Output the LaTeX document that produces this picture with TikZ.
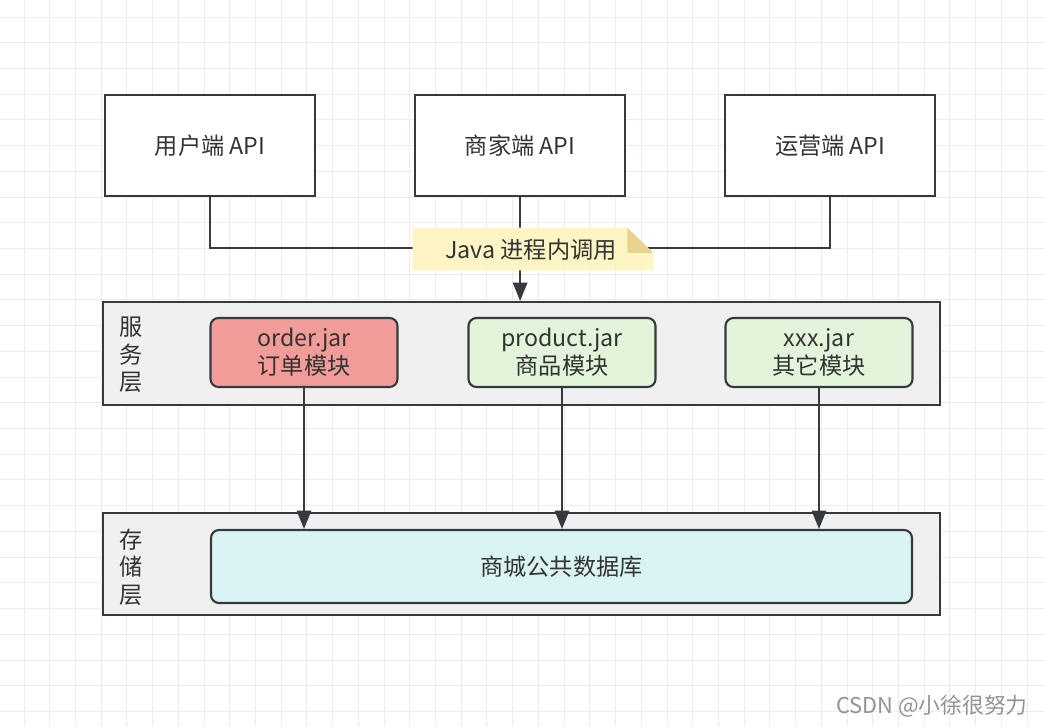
\documentclass[tikz,border=0pt]{standalone}
\usepackage{fontspec}
\newfontfamily\cjk{Noto Sans CJK SC}
\usepackage{xcolor}
\definecolor{linedark}{RGB}{54, 57, 61}
\definecolor{textdark}{RGB}{51, 51, 51}
\definecolor{layergray}{RGB}{240, 240, 240}
\definecolor{orderred}{RGB}{241, 156, 153}
\definecolor{modgreen}{RGB}{226, 245, 218}
\definecolor{dbcyan}{RGB}{218, 243, 243}
\definecolor{noteyellow}{RGB}{255, 244, 195}
\definecolor{notefold}{RGB}{232, 212, 142}
\definecolor{gridgray}{RGB}{236, 236, 238}
\usetikzlibrary{positioning, arrows.meta, calc, backgrounds}

\begin{document}
\begin{tikzpicture}[node distance=2.45cm, >={Triangle[length=0.46cm, width=0.36cm]},
    every node/.style={font=\cjk\fontsize{16.5}{20}\selectfont, text=textdark},
    apibox/.style={draw=linedark, line width=1.5pt, fill=white, minimum width=5.25cm, minimum height=2.525cm},
    layerbox/.style={draw=linedark, line width=1.5pt, fill=layergray, minimum width=20.925cm, minimum height=2.575cm},
    jarbox/.style={draw=linedark, line width=1.5pt, rounded corners=0.2cm, minimum width=4.675cm, minimum height=1.725cm, align=center, inner sep=1pt},
    layerlabel/.style={align=center, font=\cjk\fontsize{16.5}{19.5}\selectfont},
    conn/.style={draw=linedark, line width=1.5pt}]
    \useasboundingbox (0,0) rectangle (26.125,18.15);
    % background grid
    \foreach \gx in {0,...,40} {
        \draw [gridgray, line width=0.7pt] ({0.6+0.643*\gx},0) -- ({0.6+0.643*\gx},18.15);
    }
    \foreach \gy in {0,...,28} {
        \draw [gridgray, line width=0.7pt] (0,{17.725-0.643*\gy}) -- (26.125,{17.725-0.643*\gy});
    }

    % api layer
    \node [apibox] (userapi) at (5.25,14.5125) {用户端 API};
    \node [apibox, right=of userapi] (shopapi) {商家端 API};
    \node [apibox, right=of shopapi] (opsapi) {运营端 API};

    % service layer
    \node [layerbox] (service) at (13.0375,9.3125) {};
    \node [layerlabel] (servicelbl) at (3.275,9.275) {服\\务\\层};
    \node [jarbox, fill=orderred] (orderjar) at (7.6,9.3375) {order.jar\\订单模块};
    \node [jarbox, fill=modgreen] (productjar) at (14.05,9.3375) {product.jar\\商品模块};
    \node [jarbox, fill=modgreen] (xxxjar) at (20.475,9.3375) {xxx.jar\\其它模块};

    % storage layer
    \node [layerbox, minimum height=2.55cm] (storage) at (13.0375,4.05) {};
    \node [layerlabel] (storagelbl) at (3.275,3.975) {存\\储\\层};
    \node [jarbox, fill=dbcyan, minimum width=17.525cm, minimum height=1.825cm] (db) at (14.0375,3.9875) {商城公共数据库};

    % connectors
    \draw [conn] (userapi.south) |- (13,11.95) -| (opsapi.south);
    \draw [conn, ->] (shopapi.south) -- (shopapi.south |- service.north);
    \draw [conn, ->] (orderjar.south) -- (orderjar.south |- db.north);
    \draw [conn, ->] (productjar.south) -- (productjar.south |- db.north);
    \draw [conn, ->] (xxxjar.south) -- (xxxjar.south |- db.north);

    % note
    \node [minimum width=6cm, minimum height=1.05cm, inner sep=0pt] (note) at (13.325,11.925) {};
    \fill [noteyellow] (note.south west) -- (note.north west) -- ($(note.north east)+(-0.65,0)$) -- ($(note.north east)+(0,-0.63)$) -- (note.south east) -- cycle;
    \fill [notefold] ($(note.north east)+(-0.65,0)$) -- ($(note.north east)+(-0.65,-0.63)$) -- ($(note.north east)+(0,-0.63)$) -- cycle;
    \node (notetext) at ($(note.center)+(-0.05,-0.02)$) {Java 进程内调用};

    % watermark
    \node [font=\fontsize{15.5}{18}\selectfont\cjk, text=gray!85] (mark) at (23.3,0.5) {CSDN @小徐很努力};
\end{tikzpicture}
\end{document}
